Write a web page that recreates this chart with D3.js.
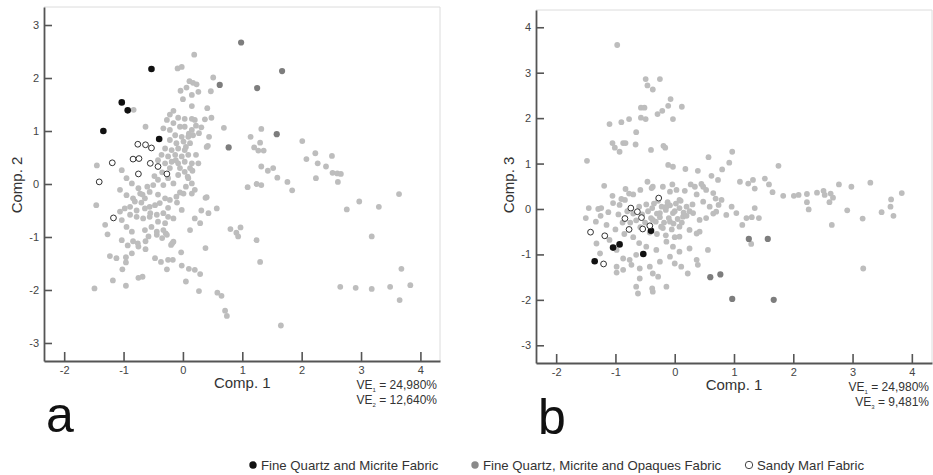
<!DOCTYPE html>
<html>
<head>
<meta charset="utf-8">
<script src="https://cdn.jsdelivr.net/npm/d3@7"></script>
<style>
body { margin: 0; background: #fff; }
svg { font-family: "Liberation Sans", Arial, sans-serif; }
</style>
</head>
<body>
<svg width="933" height="475"></svg>
<script>
// tick values
var xTicks = [-2, -1, 0, 1, 2, 3, 4];
var yTicksA = [-3, -2, -1, 0, 1, 2, 3];
var yTicksB = [-3, -2, -1, 0, 1, 2, 3, 4];

var legendLabels = ["Fine Quartz and Micrite Fabric", "Fine Quartz, Micrite and Opaques Fabric", "Sandy Marl Fabric"];

// panel a : Comp.1 vs Comp.2
var aOther = [[0.19,2.44],[-0.09,2.18],[-0.02,2.21],[0.51,2.01],[0.11,1.94],[0.17,1.91],[0.23,1.88],[0.06,1.82],[-0.04,1.76],[0.26,1.74],[0.15,1.68],[0.47,1.75],[0.00,1.60],[0.15,1.47],[0.41,1.43],[-0.83,1.40],[-0.16,1.38],[-0.22,1.31],[-0.08,1.25],[0.03,1.23],[0.15,1.23],[0.20,1.21],[0.37,1.22],[0.48,1.25],[-0.27,1.21],[-0.16,1.15],[-0.05,1.08],[-0.63,1.08],[-0.33,1.05],[-0.22,1.02],[0.03,1.08],[0.15,1.02],[0.31,1.07],[0.69,1.06],[-0.13,0.92],[-0.02,0.89],[0.09,0.89],[0.17,0.92],[0.44,0.89],[1.14,0.89],[1.32,1.04],[-0.22,0.83],[-0.11,0.77],[0.01,0.80],[0.12,0.77],[0.42,0.72],[-0.30,0.67],[-0.19,0.64],[-0.08,0.67],[0.03,0.64],[1.20,0.69],[1.27,0.63],[-0.36,0.55],[-0.25,0.52],[-0.13,0.55],[-0.02,0.52],[0.09,0.55],[-1.45,0.35],[-0.42,0.45],[-0.30,0.39],[-0.19,0.42],[-0.08,0.39],[0.03,0.42],[0.15,0.39],[0.26,0.39],[1.32,0.33],
  [1.30,0.78],[1.36,0.63],[2.01,0.81],[2.23,0.58],[2.51,0.53],[2.08,0.47],[2.27,0.39],[2.41,0.33],[2.52,0.21],[2.60,0.20],[2.66,0.19],[1.43,0.25],[1.52,0.30],[1.59,0.12],[1.76,0.04],[1.84,-0.12],[2.24,0.11],[2.61,0.04],[1.09,-0.06],[1.24,0.00],[1.32,-0.02],[3.64,-0.19],[2.97,-0.33],[2.76,-0.48],[3.30,-0.43],[0.80,-0.85],[0.90,-0.92],[0.93,-0.99],[0.97,-0.82],[3.18,-0.99],[1.24,-1.06],[1.30,-1.47],[3.68,-1.60],[0.65,-2.11],[0.71,-2.39],[0.74,-2.49],[2.65,-1.94],[2.91,-1.96],[3.18,-1.98],[3.49,-1.94],[3.83,-1.91],[3.65,-2.19],[1.65,-2.67],
  [-1.27,-0.95],[-1.03,-1.06],[-0.93,-1.16],[-0.84,-1.08],[-0.76,-1.12],[-0.63,-1.08],[-0.58,-0.99],[-0.44,-0.96],[-0.35,-1.02],[-0.29,-0.93],[-0.16,-1.09],[-0.20,-1.15],[-1.23,-1.36],[-1.12,-1.40],[-0.96,-1.38],[-0.96,-1.48],[-0.86,-1.31],[-0.63,-1.23],[-0.47,-1.40],[-0.37,-1.47],[-0.25,-1.43],[-0.17,-1.43],[-0.03,-1.29],[0.38,-1.21],[-1.02,-1.61],[-0.27,-1.61],[-0.02,-1.54],[0.10,-1.60],[0.20,-1.62],[0.29,-1.70],[-1.18,-1.82],[-0.96,-1.92],[-0.75,-1.77],[-0.68,-1.75],[0.05,-1.84],[-1.49,-1.97],[0.27,-2.02],[0.58,-2.05],
  [-1.46,-0.40],[-1.03,0.26],[-0.95,0.11],[-0.86,0.01],[-0.75,-0.08],[-1.06,-0.11],[-0.95,-0.21],[-0.84,-0.27],[-0.72,-0.18],[-0.64,-0.27],[-0.56,-0.15],[-0.50,-0.02],[-0.42,0.08],[-0.33,-0.02],[-0.25,0.11],[-0.16,0.01],[-0.08,0.17],[0.03,0.23],[0.09,0.11],[0.15,0.01],[0.20,-0.11],[0.01,-0.18],[-0.11,-0.24],[-0.22,-0.30],[-0.30,-0.27],[-0.39,-0.36],[-0.47,-0.40],[-0.56,-0.43],[-0.64,-0.46],[-0.81,-0.33],[-0.89,-0.43],[-0.98,-0.46],[-1.06,-0.52],[-0.89,-0.58],[-0.78,-0.62],[-0.67,-0.65],[-0.56,-0.62],[-0.44,-0.58],[-0.33,-0.55],[-0.25,-0.62],[-0.16,-0.65],[-0.42,-0.71],[-0.30,-0.74],[-0.53,-0.81],[-0.64,-0.87],[-0.44,-0.90],[-0.33,-0.87],[-0.27,-0.96],[-0.86,-0.90],[-0.95,-0.81],[-1.03,-0.68],[-1.31,-0.77],[0.12,-0.87],[0.29,-0.74],[0.43,-0.55],[0.57,-0.46],[0.38,-0.26],[-0.02,-0.49],[0.15,-0.18],[0.20,-0.65],[-0.18,-1.12],[-0.75,-1.18],
  [0.27,0.96],[0.40,0.70],[0.16,0.25],[0.08,0.14],[-0.05,-0.16],[0.40,-0.25],[0.31,-0.50],
  [-0.60,-0.05],[-0.48,0.15],[-0.35,0.22],[-0.22,0.30],[-0.12,0.45],[-0.05,0.30],[0.05,0.70],[0.10,0.95],[0.22,1.10],[-0.70,-0.35],[-0.55,-0.55],[-0.78,-0.50],[-0.68,-0.20],[-0.42,-0.20],[-0.25,-0.45],[-0.10,-0.35],[0.05,-0.05],[0.12,0.30],[0.22,0.55]];
var aOpaques = [[0.98,2.67],[1.67,2.13],[0.62,1.87],[1.25,1.81],[1.58,0.94],[0.77,0.69]];
var aMicrite = [[-0.53,2.17],[-1.03,1.54],[-0.93,1.39],[-1.34,1.00],[-0.40,0.85]];
var aSandy = [[-1.41,0.04],[-1.19,0.40],[-1.17,-0.64],[-0.76,0.75],[-0.63,0.74],[-0.53,0.68],[-0.84,0.47],[-0.74,0.48],[-0.55,0.39],[-0.42,0.33],[-0.75,0.19],[-0.27,0.19]];

// panel b : Comp.1 vs Comp.3
var bOther = [[-0.97,3.61],[-0.49,2.86],[-0.25,2.86],[-0.46,2.72],[-0.37,2.63],[-0.07,2.42],[0.12,2.25],[-0.11,2.27],[-0.21,2.16],[-0.29,2.09],[-0.03,1.98],[-0.57,2.23],[-0.51,2.23],[-0.57,2.01],[-0.49,1.98],[-1.10,1.87],[-0.90,1.91],[-0.77,1.98],[-0.65,1.69],[-1.05,1.45],[-1.01,1.35],[-0.93,1.26],[-0.87,1.45],[-0.83,1.45],[-0.66,1.42],[-0.40,1.30],[-0.19,1.39],[-0.16,1.35],[-1.48,1.06],[-0.11,0.97],[-0.03,0.93],[0.18,0.88],[0.39,0.84],[0.57,1.14],[0.62,0.73],[-0.46,0.60],[-0.37,0.49],[-0.20,0.49],[-0.04,0.54],[0.03,0.42],[-1.19,0.51],[-0.83,0.44],[-0.70,0.32],[-1.05,0.29],[-0.90,0.22],[-1.12,-0.07],[-1.29,0.00],[-1.45,0.02],[-1.50,-0.20],[-1.33,-0.28],[0.27,0.54],[0.37,0.32],[0.48,0.49],[0.65,0.35],[0.73,0.64],
  [0.08,0.20],[0.20,0.05],[0.31,-0.09],[0.42,-0.24],[0.14,-0.17],[-0.03,-0.09],[-0.14,0.05],[-0.25,-0.09],[-0.37,-0.24],[-0.23,-0.39],[-0.08,-0.28],[0.08,-0.39],[0.25,-0.46],[0.42,-0.50],
  [0.97,1.26],[0.80,0.87],[0.92,1.02],[-0.77,0.34],[-0.58,0.42],[-0.39,0.46],[-0.08,0.38],[0.17,0.40],[0.34,0.49],[0.45,0.55],[0.53,0.42],[0.79,0.20],[0.96,0.05],[1.10,0.60],[1.24,0.56],[1.32,0.64],[1.35,0.45],[-1.24,0.02],[-1.04,0.13],[-0.93,0.09],[-0.84,0.20],
  [0.48,0.16],[0.59,0.05],[0.70,-0.06],[0.87,-0.13],[1.04,-0.09],[1.21,-0.20],[1.30,-0.18],[1.42,-0.20],[1.14,-0.35],[1.29,-0.77],
  [-1.10,-0.68],[-0.98,-0.90],[-0.87,-1.09],[-0.76,-1.12],[-0.65,-1.01],[-0.48,-0.83],[-0.31,-0.90],[-0.14,-0.72],[-0.03,-0.83],[0.08,-0.61],[0.37,-0.54],[0.25,-0.87],[0.08,-0.94],[-0.08,-1.05],[-0.25,-1.16],[-0.42,-1.27],[-0.59,-1.31],[-0.73,-1.23],[-0.87,-1.34],[-0.98,-1.27],[-0.37,-1.42],[-0.28,-1.49],[-0.59,-1.53],[-0.65,-1.71],[-0.62,-1.86],[-0.14,-1.71],[0.22,-1.42],[0.39,-1.23],[0.56,-0.90],[0.37,-1.12],[-0.38,-1.75],[-0.37,-1.82],[-0.98,-1.40],[0.11,-1.27],[0.00,-1.20],[-1.32,-0.76],[-1.26,-0.98],
  [1.75,0.95],[1.52,0.67],[1.59,0.54],[1.65,0.37],[1.83,0.29],[2.01,0.29],[2.09,0.31],[2.23,0.33],[2.40,0.36],[2.51,0.40],[2.53,0.31],[2.63,0.34],[2.67,0.25],[2.61,0.15],[2.77,0.54],[2.98,0.49],[3.30,0.58],[3.83,0.35],[3.65,0.21],[3.64,0.05],[3.69,-0.15],[3.49,-0.07],[3.17,-0.21],[2.91,-0.03],[2.65,-0.35],[2.23,0.15],[2.26,-0.01],[0.69,0.23],[0.74,0.09],[0.65,-0.10],[1.35,0.02],[0.53,-0.20],[3.18,-1.31],
  [-0.45,-0.05],[-0.38,0.02],[-0.30,-0.10],[-0.22,0.05],[-0.15,-0.02],[-0.08,0.08],[0.00,-0.05],[0.08,0.02],[0.15,-0.08],[-0.40,-0.20],[-0.32,-0.28],[-0.25,-0.18],[-0.18,-0.30],[-0.10,-0.20],[-0.02,-0.32],[0.05,-0.22],[0.12,-0.30],[0.20,-0.15],[-0.35,0.12],[-0.28,0.18],[-0.12,0.15],[0.02,0.12],[0.10,0.18],[-0.50,-0.30],[-0.55,-0.12],[-0.60,0.05],[-0.48,0.10],[-0.20,-0.42],[-0.05,-0.45],[0.25,-0.05],[0.30,0.10],[-0.65,-0.25],[-0.70,-0.10],[-0.58,-0.40],[-0.42,-0.52],[-0.30,-0.55],[-0.15,-0.58],[0.00,-0.62],[-0.95,-0.12],[-0.88,-0.30],[-0.80,-0.05],[-0.75,-0.30],[-1.00,-0.45],[-0.85,-0.55],[-0.70,-0.62],[-0.60,-0.75],[-1.15,-0.35],[-1.25,-0.15]];
var bOpaques = [[1.25,-0.66],[1.57,-0.66],[0.60,-1.50],[0.77,-1.44],[0.97,-1.98],[1.67,-2.00]];
var bMicrite = [[-0.40,-0.48],[-0.93,-0.78],[-1.04,-0.85],[-0.53,-0.99],[-1.35,-1.15]];
var bSandy = [[-1.42,-0.51],[-1.18,-0.59],[-1.20,-1.21],[-0.74,0.02],[-0.63,-0.06],[-0.84,-0.21],[-0.56,-0.19],[-0.77,-0.45],[-0.54,-0.44],[-0.42,-0.37],[-0.27,0.24]];

var svg = d3.select('svg');
var axisColor = '#555';
var textColor = '#444';

function drawPanel(p) {
  var xs = d3.scaleLinear().domain(p.xDom).range([p.left, p.right]);
  var ys = d3.scaleLinear().domain(p.yDom).range([p.bottom, p.top]);
  var g = svg.append('g');

  // light frame top and right
  g.append('path')
    .attr('d', 'M' + p.left + ',' + p.top + 'H' + p.right + 'V' + p.bottom)
    .attr('fill', 'none').attr('stroke', '#dcdcdc').attr('stroke-width', 1);

  var dots = g.append('g');
  function plot(data, fill, stroke, r) {
    dots.append('g').selectAll('circle')
      .data(data).enter().append('circle')
      .attr('cx', function(d) { return xs(d[0]); })
      .attr('cy', function(d) { return ys(d[1]); })
      .attr('r', r)
      .attr('fill', fill)
      .attr('stroke', stroke)
      .attr('stroke-width', stroke == 'none' ? 0 : 1);
  }
  plot(p.other, '#bdbdbd', 'none', 2.9);
  plot(p.opaques, '#7d7d7d', 'none', 3.1);
  plot(p.micrite, '#111', 'none', 3.3);
  plot(p.sandy, '#fff', '#333', 2.9);

  var fmt = function(d) { return String(d); };
  var ya = g.append('g')
    .attr('transform', 'translate(' + p.left + ',0)')
    .call(d3.axisLeft(ys).tickValues(p.yTicks).tickFormat(fmt).tickSizeInner(-8).tickSizeOuter(0).tickPadding(5));
  var xa = g.append('g')
    .attr('transform', 'translate(0,' + p.bottom + ')')
    .call(d3.axisBottom(xs).tickValues(xTicks).tickFormat(fmt).tickSizeInner(-9).tickSizeOuter(0).tickPadding(5));
  [ya, xa].forEach(function(a) {
    a.select('.domain').attr('stroke', axisColor).attr('stroke-width', 1.8);
    a.selectAll('.tick line').attr('stroke', axisColor).attr('stroke-width', 1.6);
    a.selectAll('.tick text').attr('fill', textColor).style('font-size', '11px')
      .style('font-family', '"Liberation Sans", Arial, sans-serif');
  });

  g.append('text').attr('x', xs(1)).attr('y', p.bottom + 27)
    .attr('text-anchor', 'middle').attr('fill', '#333').style('font-size', '15px').text('Comp. 1');
  g.append('text')
    .attr('transform', 'translate(' + (p.left - 22) + ',' + 185 + ') rotate(-90)')
    .attr('text-anchor', 'middle').attr('fill', '#333').style('font-size', '15px').text(p.yLabel);

  p.ve.forEach(function(v, i) {
    var t = g.append('text').attr('x', p.right - 3).attr('y', p.bottom + 28 + i * 15)
      .attr('text-anchor', 'end').attr('fill', '#333').style('font-size', '12px');
    t.append('tspan').text('VE');
    t.append('tspan').attr('dy', 3).style('font-size', '6px').text(v[0]);
    t.append('tspan').attr('dy', -3).text(' = ' + v[1]);
  });

  g.append('text').attr('x', p.left + 2).attr('y', p.bottom + 71)
    .attr('fill', '#111').style('font-size', '50px').text(p.letter);
}

drawPanel({left: 44, right: 440, top: 7, bottom: 361, xDom: [-2.34, 4.33], yDom: [-3.34, 3.34],
  yTicks: yTicksA, yLabel: 'Comp. 2', letter: 'a', ve: [['1', '24,980%'], ['2', '12,640%']],
  other: aOther, opaques: aOpaques, micrite: aMicrite, sandy: aSandy});
drawPanel({left: 536, right: 932, top: 10, bottom: 363, xDom: [-2.34, 4.34], yDom: [-3.39, 4.38],
  yTicks: yTicksB, yLabel: 'Comp. 3', letter: 'b', ve: [['1', '24,980%'], ['3', '9,481%']],
  other: bOther, opaques: bOpaques, micrite: bMicrite, sandy: bSandy});

// legend
var legX = [253, 475, 749];
var legFill = ['#111', '#8a8a8a', '#fff'];
var leg = svg.append('g').selectAll('g').data(legendLabels).enter().append('g')
  .attr('transform', function(d, i) { return 'translate(' + legX[i] + ',465)'; });
leg.append('circle').attr('r', 3.7)
  .attr('fill', function(d, i) { return legFill[i]; })
  .attr('stroke', function(d, i) { return i == 2 ? '#444' : 'none'; });
leg.append('text').attr('x', 8).attr('y', 4.5).attr('fill', '#333').style('font-size', '13.2px')
  .text(function(d) { return d; });
</script>
</body>
</html>
